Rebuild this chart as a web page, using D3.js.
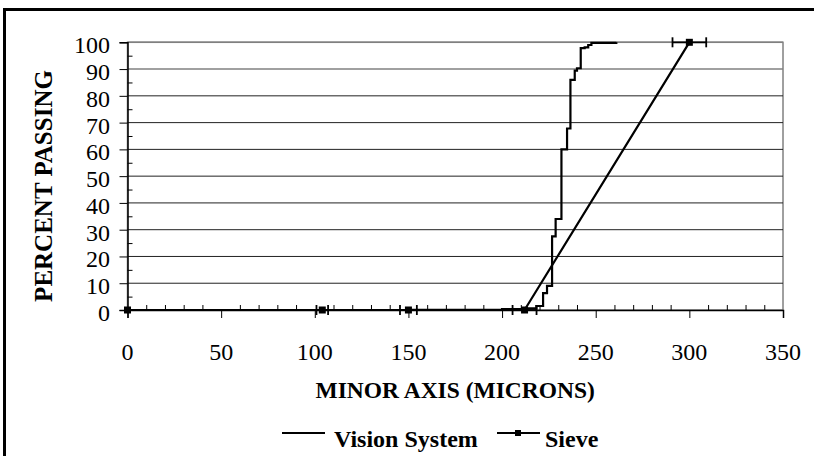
<!DOCTYPE html>
<html>
<head>
<meta charset="utf-8">
<script src="https://cdn.jsdelivr.net/npm/d3@7"></script>
<style>
  body { margin: 0; background: #fff; }
  svg { display: block; }
  text { font-family: "Liberation Serif", "Times New Roman", serif; fill: #000; }
</style>
</head>
<body>
<div id="chart"></div>
<script>
// vision system curve (minor axis in microns, percent passing)
const visionX = [87, 150, 200, 212, 218.3, 221.9, 224, 226.7, 228.6, 231.7, 234.7, 236.5, 238.8, 240, 242, 244.1, 246, 247.7, 261]
const visionY = [0, 0.1, 0.3, 0.6, 1.5, 6.3, 9, 27.5, 34, 60, 67.8, 86, 89.4, 90.3, 97.8, 98.1, 99, 99.8, 100]

// sieve points with horizontal error bars
const sieveX = [0, 104, 150, 212, 300]
const sieveY = [0, 0, 0, 0, 100]
const sieveErr = [0, 3.1, 4.5, 6.4, 9]

const xTicks = [0, 50, 100, 150, 200, 250, 300, 350]
const yTicks = [0, 10, 20, 30, 40, 50, 60, 70, 80, 90, 100]
const legendLabels = ["Vision System", "Sieve"]

const width = 814
const height = 456

const svg = d3.select("#chart")
  .append("svg")
  .attr("width", width)
  .attr("height", height)

// outer chart border
svg.append("rect")
  .attr("x", 4.5)
  .attr("y", 9.5)
  .attr("width", 830)
  .attr("height", 480)
  .attr("fill", "none")
  .attr("stroke", "#000")
  .attr("stroke-width", 3)

const x = d3.scaleLinear().domain([0, 350]).range([127.5, 783])
const y = d3.scaleLinear().domain([0, 100]).range([310, 42.3])

// plot area border
svg.append("rect")
  .attr("x", x(0))
  .attr("y", y(100))
  .attr("width", x(350) - x(0))
  .attr("height", y(0) - y(100))
  .attr("fill", "none")
  .attr("stroke", "#808080")
  .attr("stroke-width", 1.5)

// gridlines
svg.append("g")
  .selectAll("line")
  .data(yTicks.filter((d) => d > 0))
  .enter()
  .append("line")
  .attr("x1", x(0))
  .attr("x2", x(350))
  .attr("y1", (d) => y(d))
  .attr("y2", (d) => y(d))
  .attr("stroke", (d) => (d >= 90 ? "#808080" : "#222"))
  .attr("stroke-width", (d) => (d >= 90 ? 1.6 : 1))

// y axis: major ticks outside, minor inside
svg.append("g")
  .attr("transform", `translate(${x(0)},0)`)
  .call(d3.axisLeft(y).tickValues(yTicks).tickSize(8).tickFormat(""))
  .call((g) => g.select(".domain").attr("stroke-width", 1.5))

svg.append("g")
  .attr("transform", `translate(${x(0)},0)`)
  .call(d3.axisRight(y).tickValues(d3.range(5, 100, 10)).tickSize(5).tickFormat(""))
  .call((g) => g.select(".domain").remove())

svg.append("g")
  .selectAll("text")
  .data(yTicks)
  .enter()
  .append("text")
  .attr("x", 110)
  .attr("y", (d) => y(d) + 11)
  .attr("text-anchor", "end")
  .attr("font-size", "24px")
  .text((d) => d)

// x axis: major ticks down, minor up
svg.append("g")
  .attr("transform", `translate(0,${y(0)})`)
  .call(d3.axisBottom(x).tickValues(xTicks).tickSize(8).tickFormat(""))
  .call((g) => g.select(".domain").attr("stroke-width", 1.5))

svg.append("g")
  .attr("transform", `translate(0,${y(0)})`)
  .call(d3.axisTop(x).tickValues(d3.range(10, 350, 10).filter((d) => d % 50 !== 0)).tickSize(5).tickFormat(""))
  .call((g) => g.select(".domain").remove())

svg.append("g")
  .selectAll("text")
  .data(xTicks)
  .enter()
  .append("text")
  .attr("x", (d) => x(d))
  .attr("y", 360)
  .attr("text-anchor", "middle")
  .attr("font-size", "24px")
  .text((d) => d)

// axis titles
svg.append("text")
  .attr("x", (x(0) + x(350)) / 2)
  .attr("y", 398)
  .attr("text-anchor", "middle")
  .attr("font-size", "23.5px")
  .attr("font-weight", "bold")
  .text("MINOR AXIS (MICRONS)")

svg.append("text")
  .attr("transform", "translate(52,186) rotate(-90)")
  .attr("text-anchor", "middle")
  .attr("font-size", "25px")
  .attr("font-weight", "bold")
  .text("PERCENT PASSING")

// vision system line
const vision = visionX.map((v, i) => ({ x: v, y: visionY[i] }))
svg.append("path")
  .datum(vision)
  .attr("fill", "none")
  .attr("stroke", "#000")
  .attr("stroke-width", 2.2)
  .attr("d", d3.line().x((d) => x(d.x)).y((d) => y(d.y)).curve(d3.curveStepAfter))

// sieve line with error bars and markers
const sieve = sieveX.map((v, i) => ({ x: v, y: sieveY[i], e: sieveErr[i] }))
svg.append("path")
  .datum(sieve)
  .attr("fill", "none")
  .attr("stroke", "#000")
  .attr("stroke-width", 2.2)
  .attr("d", d3.line().x((d) => x(d.x)).y((d) => y(d.y)))

const bars = svg.append("g")
  .selectAll("g")
  .data(sieve.filter((d) => d.e > 0))
  .enter()
  .append("g")
  .attr("stroke", "#000")
  .attr("stroke-width", 1.8)

bars.append("line")
  .attr("x1", (d) => x(d.x - d.e))
  .attr("x2", (d) => x(d.x + d.e))
  .attr("y1", (d) => y(d.y))
  .attr("y2", (d) => y(d.y))
bars.append("line")
  .attr("x1", (d) => x(d.x - d.e))
  .attr("x2", (d) => x(d.x - d.e))
  .attr("y1", (d) => y(d.y) - 5)
  .attr("y2", (d) => y(d.y) + 5)
bars.append("line")
  .attr("x1", (d) => x(d.x + d.e))
  .attr("x2", (d) => x(d.x + d.e))
  .attr("y1", (d) => y(d.y) - 5)
  .attr("y2", (d) => y(d.y) + 5)

svg.append("g")
  .selectAll("rect")
  .data(sieve)
  .enter()
  .append("rect")
  .attr("x", (d) => x(d.x) - 3.5)
  .attr("y", (d) => y(d.y) - 3.5)
  .attr("width", 7)
  .attr("height", 7)
  .attr("fill", "#000")

// legend
const legend = svg.append("g")
legend.append("line")
  .attr("x1", 282).attr("x2", 325)
  .attr("y1", 433).attr("y2", 433)
  .attr("stroke", "#000").attr("stroke-width", 2.2)
legend.append("text")
  .attr("x", 334).attr("y", 447)
  .attr("font-size", "24px").attr("font-weight", "bold")
  .text(legendLabels[0])
legend.append("line")
  .attr("x1", 497).attr("x2", 540)
  .attr("y1", 433).attr("y2", 433)
  .attr("stroke", "#000").attr("stroke-width", 2.2)
legend.append("rect")
  .attr("x", 515).attr("y", 430)
  .attr("width", 6).attr("height", 6)
  .attr("fill", "#000")
legend.append("text")
  .attr("x", 545).attr("y", 447)
  .attr("font-size", "24px").attr("font-weight", "bold")
  .text(legendLabels[1])
</script>
</body>
</html>
